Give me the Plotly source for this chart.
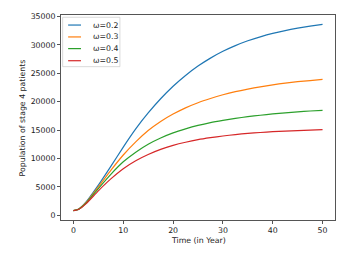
import plotly.graph_objects as go

# Data
time_years = [0, 1, 2.5, 5, 7.5, 10, 12.5, 15, 17.5, 20, 22.5, 25, 27.5, 30,
              32.5, 35, 37.5, 40, 42.5, 45, 47.5, 50]
omega_02 = [800, 1050, 2300, 5300, 8600, 12000, 15200, 18000, 20500, 22700, 24600,
            26250, 27650, 28850, 29850, 30700, 31400, 32000, 32500, 32920, 33280, 33600]
omega_03 = [800, 1050, 2200, 5000, 7900, 10600, 12900, 14900, 16500, 17800, 18900,
            19800, 20550, 21200, 21750, 22200, 22600, 22950, 23250, 23500, 23700, 23900]
omega_04 = [800, 1030, 2100, 4700, 7200, 9400, 11100, 12500, 13600, 14500, 15200,
            15800, 16300, 16700, 17050, 17350, 17600, 17830, 18030, 18200, 18340, 18450]
omega_05 = [800, 1020, 2000, 4300, 6400, 8200, 9600, 10700, 11600, 12300, 12850,
            13300, 13650, 13950, 14200, 14400, 14560, 14700, 14810, 14900, 14980, 15050]

series_names = ["ω=0.2", "ω=0.3", "ω=0.4", "ω=0.5"]
series_values = [omega_02, omega_03, omega_04, omega_05]
colors = ["#1f77b4", "#ff7f0e", "#2ca02c", "#d62728"]

x_ticks = [0, 10, 20, 30, 40, 50]
y_ticks = [0, 5000, 10000, 15000, 20000, 25000, 30000, 35000]
y_tick_labels = ["0", "5000", "10000", "15000", "20000", "25000", "30000", "35000"]
x_tick_labels = ["0", "10", "20", "30", "40", "50"]

FONT = "DejaVu Sans"
FS = 7.8

fig = go.Figure()
for name, vals, col in zip(series_names, series_values, colors):
    fig.add_trace(go.Scatter(x=time_years, y=vals, mode="lines", name=name,
                             line=dict(color=col, width=1.2, shape="spline", smoothing=0.5),
                             showlegend=False))

axis_common = dict(showgrid=False, zeroline=False, showline=True, linecolor="#555",
                   linewidth=1, mirror=True, ticks="outside", ticklen=3, tickwidth=0.8,
                   tickcolor="#555", tickfont=dict(family=FONT, size=FS, color="#222"))

fig.update_layout(
    width=345, height=253,
    margin=dict(l=61, r=10, t=15, b=33),
    paper_bgcolor="white", plot_bgcolor="white",
    font=dict(family=FONT, size=FS, color="#222"),
    xaxis=dict(range=[-2.5, 52.5], tickvals=x_ticks, ticktext=x_tick_labels, **axis_common),
    yaxis=dict(range=[-840, 35240], tickvals=y_ticks, ticktext=y_tick_labels, **axis_common),
)

# axis titles
fig.add_annotation(text="Time (in Year)", xref="paper", yref="paper", x=0.5, y=-0.098,
                   showarrow=False, xanchor="center", yanchor="middle",
                   font=dict(family=FONT, size=FS, color="#222"))
fig.add_annotation(text="Population of stage 4 patients", xref="paper", yref="paper",
                   x=-0.139, y=0.5, textangle=-90, showarrow=False,
                   xanchor="center", yanchor="middle",
                   font=dict(family=FONT, size=FS, color="#222"))

# legend (matplotlib style box)
fig.add_shape(type="rect", xref="paper", yref="paper", x0=0.006, x1=0.215,
              y0=0.748, y1=0.989, line=dict(color="#d0d0d0", width=0.8),
              fillcolor="rgba(255,255,255,0.8)", layer="above")
rows = [0.951, 0.893, 0.836, 0.777]
for name, col, yy in zip(series_names, colors, rows):
    fig.add_shape(type="line", xref="paper", yref="paper", x0=0.026, x1=0.073,
                  y0=yy, y1=yy, line=dict(color=col, width=1.2), layer="above")
    fig.add_annotation(text=name, xref="paper", yref="paper", x=0.11, y=yy,
                       showarrow=False, xanchor="left", yanchor="middle",
                       font=dict(family=FONT, size=FS, color="#222"))

fig.write_html("out.html", config={"displayModeBar": False},
               post_script="document.body.style.margin='0';document.body.style.padding='0';")
